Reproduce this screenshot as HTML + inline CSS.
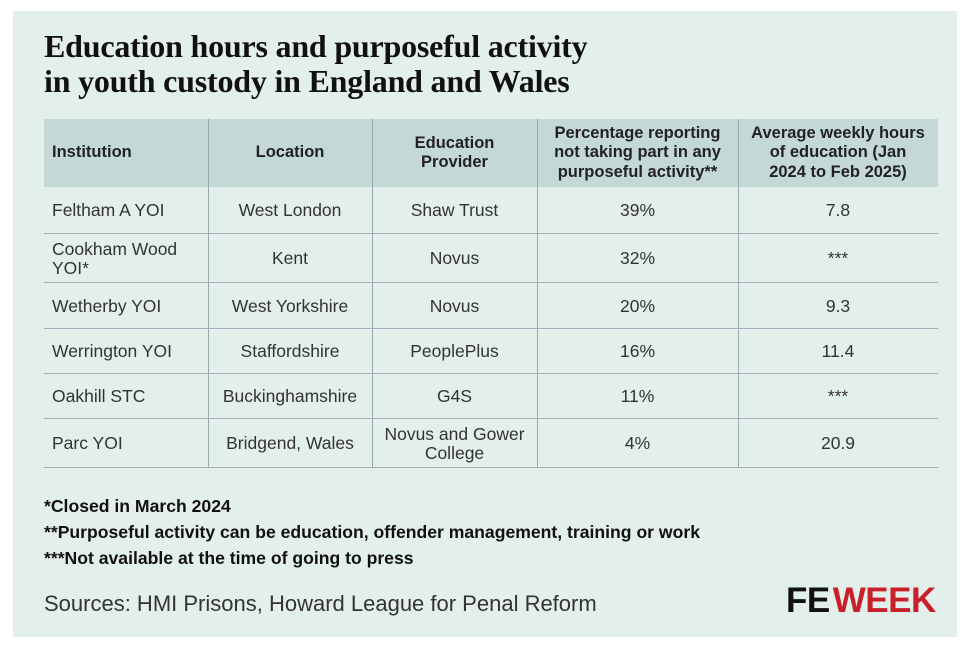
<!DOCTYPE html>
<html><head><meta charset="utf-8"><style>
*{margin:0;padding:0;box-sizing:border-box}
body{width:970px;height:649px;background:#fff;position:relative;font-family:"Liberation Sans",sans-serif;color:#222;overflow:hidden}
#p{position:absolute;left:13px;top:11px;width:944px;height:626px;background:#e3efea}
h1{position:absolute;left:44px;top:29px;font-family:"Liberation Serif",serif;font-weight:bold;font-size:32px;line-height:35px;color:#111;letter-spacing:-0.2px}
.c{position:absolute;display:flex;align-items:center;justify-content:center;text-align:center;font-size:17.5px;line-height:19px;color:#333}
.l{justify-content:flex-start;text-align:left;padding-left:8px}
.h{background:#c5d8d8;font-weight:bold;color:#222;font-size:16.5px;line-height:19.5px}
.vl{position:absolute;width:1px;background:#9aa;top:119px;height:349px}
.hl{position:absolute;left:44px;width:894px;height:1px;background:#aab}
.n{position:absolute;left:44px;font-weight:bold;font-size:17.6px;color:#111}
</style></head><body>
<div id="p"></div>
<h1>Education hours and purposeful activity<br>in youth custody in England and Wales</h1>
<div class="c h l" style="left:44px;top:119px;width:164px;height:68px">Institution</div>
<div class="c h" style="left:208px;top:119px;width:164px;height:68px">Location</div>
<div class="c h" style="left:372px;top:119px;width:165px;height:68px">Education<br>Provider</div>
<div class="c h" style="left:537px;top:119px;width:201px;height:68px">Percentage reporting<br>not taking part in any<br>purposeful activity**</div>
<div class="c h" style="left:738px;top:119px;width:200px;height:68px">Average weekly hours<br>of education (Jan<br>2024 to Feb 2025)</div>

<div class="c l" style="left:44px;top:187px;width:164px;height:47px">Feltham A YOI</div>
<div class="c" style="left:208px;top:187px;width:164px;height:47px">West London</div>
<div class="c" style="left:372px;top:187px;width:165px;height:47px">Shaw Trust</div>
<div class="c" style="left:537px;top:187px;width:201px;height:47px">39%</div>
<div class="c" style="left:738px;top:187px;width:200px;height:47px">7.8</div>

<div class="c l" style="left:44px;top:234px;width:164px;height:49px">Cookham Wood<br>YOI*</div>
<div class="c" style="left:208px;top:234px;width:164px;height:49px">Kent</div>
<div class="c" style="left:372px;top:234px;width:165px;height:49px">Novus</div>
<div class="c" style="left:537px;top:234px;width:201px;height:49px">32%</div>
<div class="c" style="left:738px;top:234px;width:200px;height:49px">***</div>

<div class="c l" style="left:44px;top:283px;width:164px;height:46px">Wetherby YOI</div>
<div class="c" style="left:208px;top:283px;width:164px;height:46px">West Yorkshire</div>
<div class="c" style="left:372px;top:283px;width:165px;height:46px">Novus</div>
<div class="c" style="left:537px;top:283px;width:201px;height:46px">20%</div>
<div class="c" style="left:738px;top:283px;width:200px;height:46px">9.3</div>

<div class="c l" style="left:44px;top:329px;width:164px;height:45px">Werrington YOI</div>
<div class="c" style="left:208px;top:329px;width:164px;height:45px">Staffordshire</div>
<div class="c" style="left:372px;top:329px;width:165px;height:45px">PeoplePlus</div>
<div class="c" style="left:537px;top:329px;width:201px;height:45px">16%</div>
<div class="c" style="left:738px;top:329px;width:200px;height:45px">11.4</div>

<div class="c l" style="left:44px;top:374px;width:164px;height:45px">Oakhill STC</div>
<div class="c" style="left:208px;top:374px;width:164px;height:45px">Buckinghamshire</div>
<div class="c" style="left:372px;top:374px;width:165px;height:45px">G4S</div>
<div class="c" style="left:537px;top:374px;width:201px;height:45px">11%</div>
<div class="c" style="left:738px;top:374px;width:200px;height:45px">***</div>

<div class="c l" style="left:44px;top:419px;width:164px;height:49px">Parc YOI</div>
<div class="c" style="left:208px;top:419px;width:164px;height:49px">Bridgend, Wales</div>
<div class="c" style="left:372px;top:419px;width:165px;height:49px">Novus and Gower<br>College</div>
<div class="c" style="left:537px;top:419px;width:201px;height:49px">4%</div>
<div class="c" style="left:738px;top:419px;width:200px;height:49px">20.9</div>

<div class="vl" style="left:208px"></div><div class="vl" style="left:372px"></div><div class="vl" style="left:537px"></div><div class="vl" style="left:738px"></div>
<div class="hl" style="top:233px"></div><div class="hl" style="top:282px"></div><div class="hl" style="top:328px"></div><div class="hl" style="top:373px"></div><div class="hl" style="top:418px"></div><div class="hl" style="top:467px"></div>

<div class="n" style="top:496px">*Closed in March 2024</div>
<div class="n" style="top:522px">**Purposeful activity can be education, offender management, training or work</div>
<div class="n" style="top:548px">***Not available at the time of going to press</div>
<div style="position:absolute;left:44px;top:591px;font-size:22px;color:#333">Sources: HMI Prisons, Howard League for Penal Reform</div>
<div style="position:absolute;left:786px;top:582px;font-size:35px;font-weight:bold;letter-spacing:-0.5px;line-height:38px"><span style="color:#111">FE</span><span style="color:#c8202a;margin-left:3px">WEEK</span></div>
</body></html>
